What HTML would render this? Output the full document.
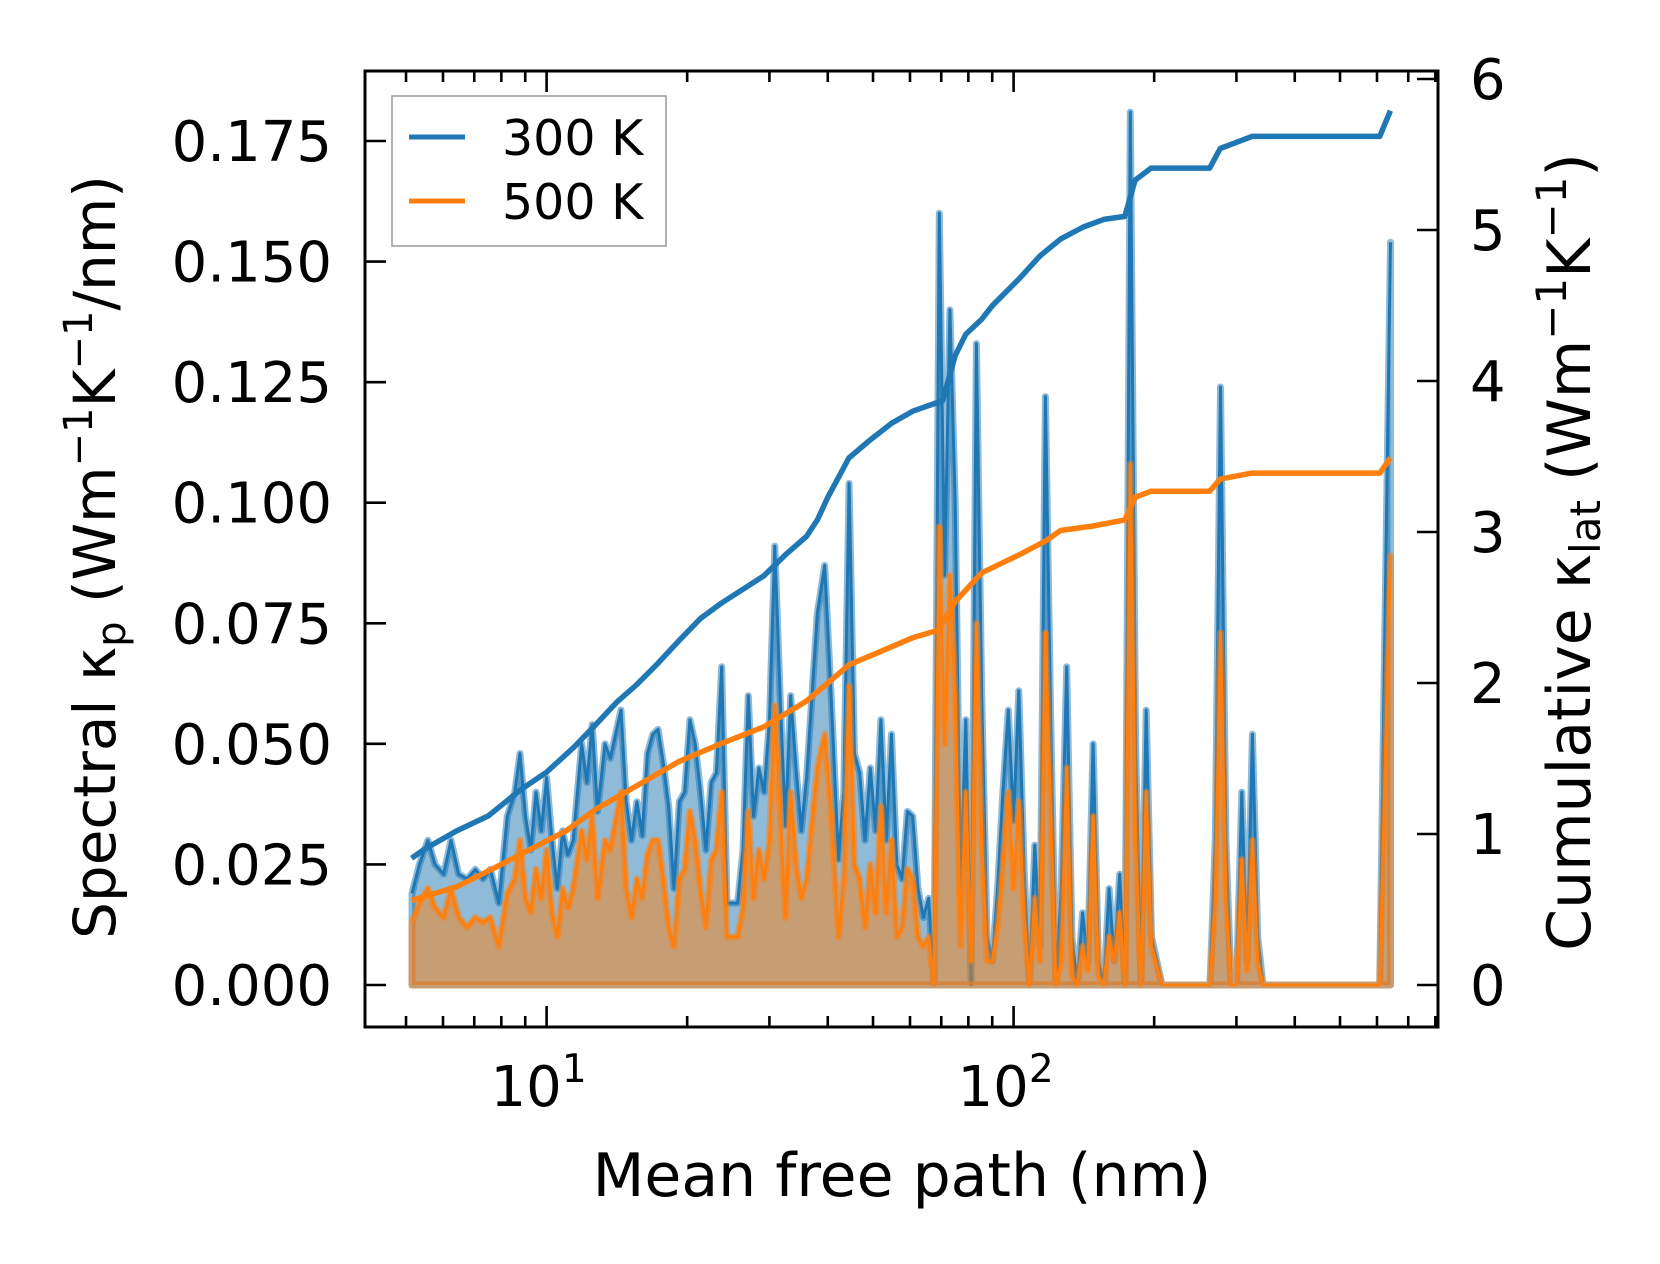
<!DOCTYPE html>
<html><head><meta charset="utf-8"><style>
html,body{margin:0;padding:0;background:#fff;}
svg{display:block;font-family:"DejaVu Sans","Liberation Sans",sans-serif;}
</style></head><body>
<svg id="chart" width="1660" height="1264" viewBox="0 0 1660 1264" xmlns="http://www.w3.org/2000/svg">
<rect x="0" y="0" width="1660" height="1264" fill="#fff"/>
<defs><clipPath id="plotclip"><rect x="365" y="71" width="1073" height="956"/></clipPath></defs>
<g id="plot" clip-path="url(#plotclip)"></g>
<g id="axes"></g>
</svg>
<script>
// ---- data ----
const mfp = [5.15,5.34,5.57,5.77,6.02,6.24,6.48,6.76,7.04,7.31,7.58,7.90,8.24,8.55,8.77,9.01,9.25,9.49,9.74,10,10.27,10.54,10.82,11.10,11.40,11.89,12.20,12.52,12.86,13.34,13.69,14.05,14.43,14.81,15.20,15.61,16.02,16.44,16.88,17.33,17.78,18.26,18.74,19.24,19.75,20.27,20.81,21.36,21.93,22.51,23.10,23.71,24.34,24.99,25.65,26.33,27.03,27.74,28.48,29.23,30.01,30.80,31.62,32.46,33.32,34.20,35.11,36.04,37.98,39.40,40.66,42.17,43.29,44.44,45.62,46.83,48.07,49.34,50.65,51.99,53.37,54.78,56.23,57.72,59.25,60.82,62.43,64.09,65.79,67.53,69.32,71.16,73.04,74.98,76.97,79.01,81.10,83.25,85.46,87.72,90.05,92.43,94.88,97.40,99.98,102.6,105.3,108.1,111.0,113.9,117.0,120.1,123.2,126.5,129.9,133.3,136.8,140.5,144.2,148.0,151.9,156.0,160.1,164.3,168.7,173.2,177.8,182.5,187.3,192.3,197.4,208.0,263.3,270.3,277.4,284.8,292.3,300.1,308.0,316.2,324.6,333.2,342.0,608.2,641.2];
// spectral kappa, units of 1e-3 W/m/K/nm
const spec300 = [19,25,30,25,23,30,23,22,24,22,24,17,35,40,48,35,28,40,32,43,30,20,32,27,30,50,42,54,36,50,47,52,57,38,30,38,31,48,52,53,46,37,20,38,40,55,50,40,28,42,44,66,17,17,17,28,60,35,45,40,55,91,60,33,60,45,32,43,77,87,60,26,40,104,48,44,30,45,32,55,30,52,25,22,36,35,20,14,18,0,160,85,140,100,20,55,0,133,60,10,5,20,40,57,34,61,24,0,29,8,122,55,0,20,66,10,0,15,5,50,5,0,20,5,23,0,181,50,0,57,10,0,0,30,124,30,0,0,40,5,52,10,0,0,154];
const spec500 = [13,17,20,16,14,20,14,12,14,13,14,8,19,22,30,18,15,24,18,28,15,10,20,16,20,32,26,35,18,30,28,34,40,20,14,22,18,27,30,30,22,12,8,22,24,36,30,20,12,26,28,40,10,10,10,16,36,18,28,22,30,58,36,14,40,25,18,22,45,52,36,10,22,62,25,22,12,25,15,37,15,30,10,12,24,22,10,8,10,0,95,50,85,60,8,40,5,75,30,5,5,12,25,40,20,38,14,0,18,5,73,35,0,5,45,2,0,8,3,35,2,0,10,5,15,0,108,30,0,40,8,0,0,18,73,18,0,0,26,3,30,5,0,0,89];
// cumulative kappa_lat (W/m/K)
const cumX300 = [5.14,5.48,6.41,7.50,8.77,10,11.4,12.7,14.1,15.6,17.3,19.2,21.4,23.7,26.3,29.2,32.5,36.0,38.0,40.0,44.4,49.3,54.8,60.8,67.6,70.5,75.0,79.0,85.5,90.1,103,114,126,141,156,173,182,197,263,277,324,608,641];
const cum300 = [0.84,0.90,1.02,1.12,1.29,1.41,1.57,1.72,1.87,1.99,2.13,2.28,2.43,2.53,2.62,2.71,2.85,2.97,3.08,3.23,3.49,3.61,3.72,3.80,3.85,3.87,4.17,4.31,4.41,4.50,4.68,4.83,4.94,5.02,5.07,5.09,5.33,5.41,5.41,5.54,5.62,5.62,5.79];
const cumX500 = [5.14,6.41,7.9,9.25,11.0,12.7,15.6,19.2,23.7,29.2,36.0,40.0,44.4,52,60.8,69,75,85.5,103,117,126,148,173,182,197,263,277,324,608,641];
const cum500 = [0.56,0.65,0.79,0.90,1.02,1.16,1.32,1.48,1.60,1.71,1.88,2.00,2.12,2.21,2.30,2.35,2.54,2.73,2.85,2.94,3.01,3.04,3.08,3.23,3.27,3.27,3.35,3.39,3.39,3.49];
const leftTicks = [0,0.025,0.05,0.075,0.1,0.125,0.15,0.175];
const leftTickLabels = ["0.000","0.025","0.050","0.075","0.100","0.125","0.150","0.175"];
const rightTicks = [0,1,2,3,4,5,6];
const xMajor = [10,100];

// ---- scales ----
const AX = {l:365, r:1438, t:71, b:1027};
const X = m => 546.6 + (Math.log10(m) - 1) * 467;
const YL = v => 985 - v / 0.175 * 844;
const YR = k => 985 - k * 151;
const NS = 'http://www.w3.org/2000/svg';
function mk(tag, attrs, parent){const e=document.createElementNS(NS,tag);for(const k in attrs)e.setAttribute(k,attrs[k]);parent.appendChild(e);return e;}
const plot = document.getElementById('plot');
const axes = document.getElementById('axes');

function spectral(vals, color, name){
  let pts = mfp.map((m,i)=>X(m).toFixed(1)+','+YL(vals[i]/1000).toFixed(1));
  const area = 'M'+X(mfp[0]).toFixed(1)+','+YL(0)+' L'+pts.join(' L')+' L'+X(mfp[mfp.length-1]).toFixed(1)+','+YL(0)+' Z';
  const a = mk('path',{d:area,fill:color,'fill-opacity':0.5,stroke:color,'stroke-opacity':0.5,'stroke-width':7,'stroke-linejoin':'round'},plot);
  
  
  const l = mk('polyline',{points:pts.join(' '),fill:'none',stroke:color,'stroke-width':3,'stroke-linejoin':'round'},plot);
  
  
}
spectral(spec300,'#1f77b4','spectral-300k');
spectral(spec500,'#ff7f0e','spectral-500k');

function cumLine(xs, ys, color, name){
  const pts = xs.map((m,i)=>X(m).toFixed(1)+','+YR(ys[i]).toFixed(1)).join(' ');
  const l = mk('polyline',{points:pts,fill:'none',stroke:color,'stroke-width':5.5,'stroke-linejoin':'round'},plot);
  
  
}
cumLine(cumX300, cum300, '#1f77b4', 'cumulative-300k-line');
cumLine(cumX500, cum500, '#ff7f0e', 'cumulative-500k-line');

// ---- axes frame ----
const frame = mk('rect',{x:AX.l,y:AX.t,width:AX.r-AX.l,height:AX.b-AX.t,fill:'none',stroke:'#000','stroke-width':3},axes);



function tick(x1,y1,x2,y2,name){const t=mk('line',{x1,y1,x2,y2,stroke:'#000','stroke-width':2.6},axes);}
function label(txt,x,y,anchor,size,name){const t=mk('text',{x,y,'text-anchor':anchor,'font-size':size,fill:'#000'},axes);t.textContent=txt;return t;}

leftTicks.forEach((v,i)=>{const y=YL(v);tick(AX.l,y,AX.l+21,y,'left-tick');label(leftTickLabels[i],332,y+20,'end',56,'left-tick-label');});
rightTicks.forEach(k=>{const y=YR(k);tick(AX.r,y,AX.r-21,y,'right-tick');label(String(k),1470,y+20,'start',56,'right-tick-label');});
for(let d=1;d<=100;d*=10){for(let j=1;j<10;j++){const m=d*j;const px=X(m);if(px<AX.l||px>AX.r)continue;const major=(j===1);const len=major?21:11;
  tick(px,AX.b,px,AX.b-len,major?'x-major-tick':'x-minor-tick');tick(px,AX.t,px,AX.t+len,major?'top-major-tick':'top-minor-tick');}}
xMajor.forEach(m=>{const t=label('10',X(m)-8,1106,'middle',56,'x-tick-label');const s=document.createElementNS(NS,'tspan');s.setAttribute('font-size',39);s.setAttribute('dy',-24);s.textContent=String(Math.round(Math.log10(m)));t.appendChild(s);});

label('Mean free path (nm)',902,1196,'middle',60,'x-axis-title');
const yl = mk('text',{x:0,y:0,'text-anchor':'middle','font-size':58,transform:'translate(115,557) rotate(-90)'},axes);

yl.innerHTML='Spectral κ<tspan font-size="40" dy="10">p</tspan><tspan dy="-10"> (Wm</tspan><tspan font-size="40" dy="-23">−1</tspan><tspan dy="23">K</tspan><tspan font-size="40" dy="-23">−1</tspan><tspan dy="23">/nm)</tspan>';
const yr = mk('text',{x:0,y:0,'text-anchor':'middle','font-size':60,transform:'translate(1590,552) rotate(-90)'},axes);

yr.innerHTML='Cumulative κ<tspan font-size="42" dy="10">lat</tspan><tspan dy="-10"> (Wm</tspan><tspan font-size="42" dy="-24">−1</tspan><tspan dy="24">K</tspan><tspan font-size="42" dy="-24">−1</tspan><tspan dy="24">)</tspan>';
</script>
<script>
const svg=document.getElementById('chart');
const lg=document.createElementNS('http://www.w3.org/2000/svg','g');


svg.appendChild(lg);
lg.innerHTML='<rect x="392" y="96" width="274" height="150" fill="#fff" fill-opacity="0.8" stroke="#999" stroke-width="1.5"/>'+
'<line x1="409" y1="137" x2="465" y2="137" stroke="#1f77b4" stroke-width="5"/>'+
'<text x="502" y="155" font-size="49">300 K</text>'+
'<line x1="409" y1="201" x2="465" y2="201" stroke="#ff7f0e" stroke-width="5"/>'+
'<text x="502" y="219" font-size="49">500 K</text>';
</script>
</body></html>
